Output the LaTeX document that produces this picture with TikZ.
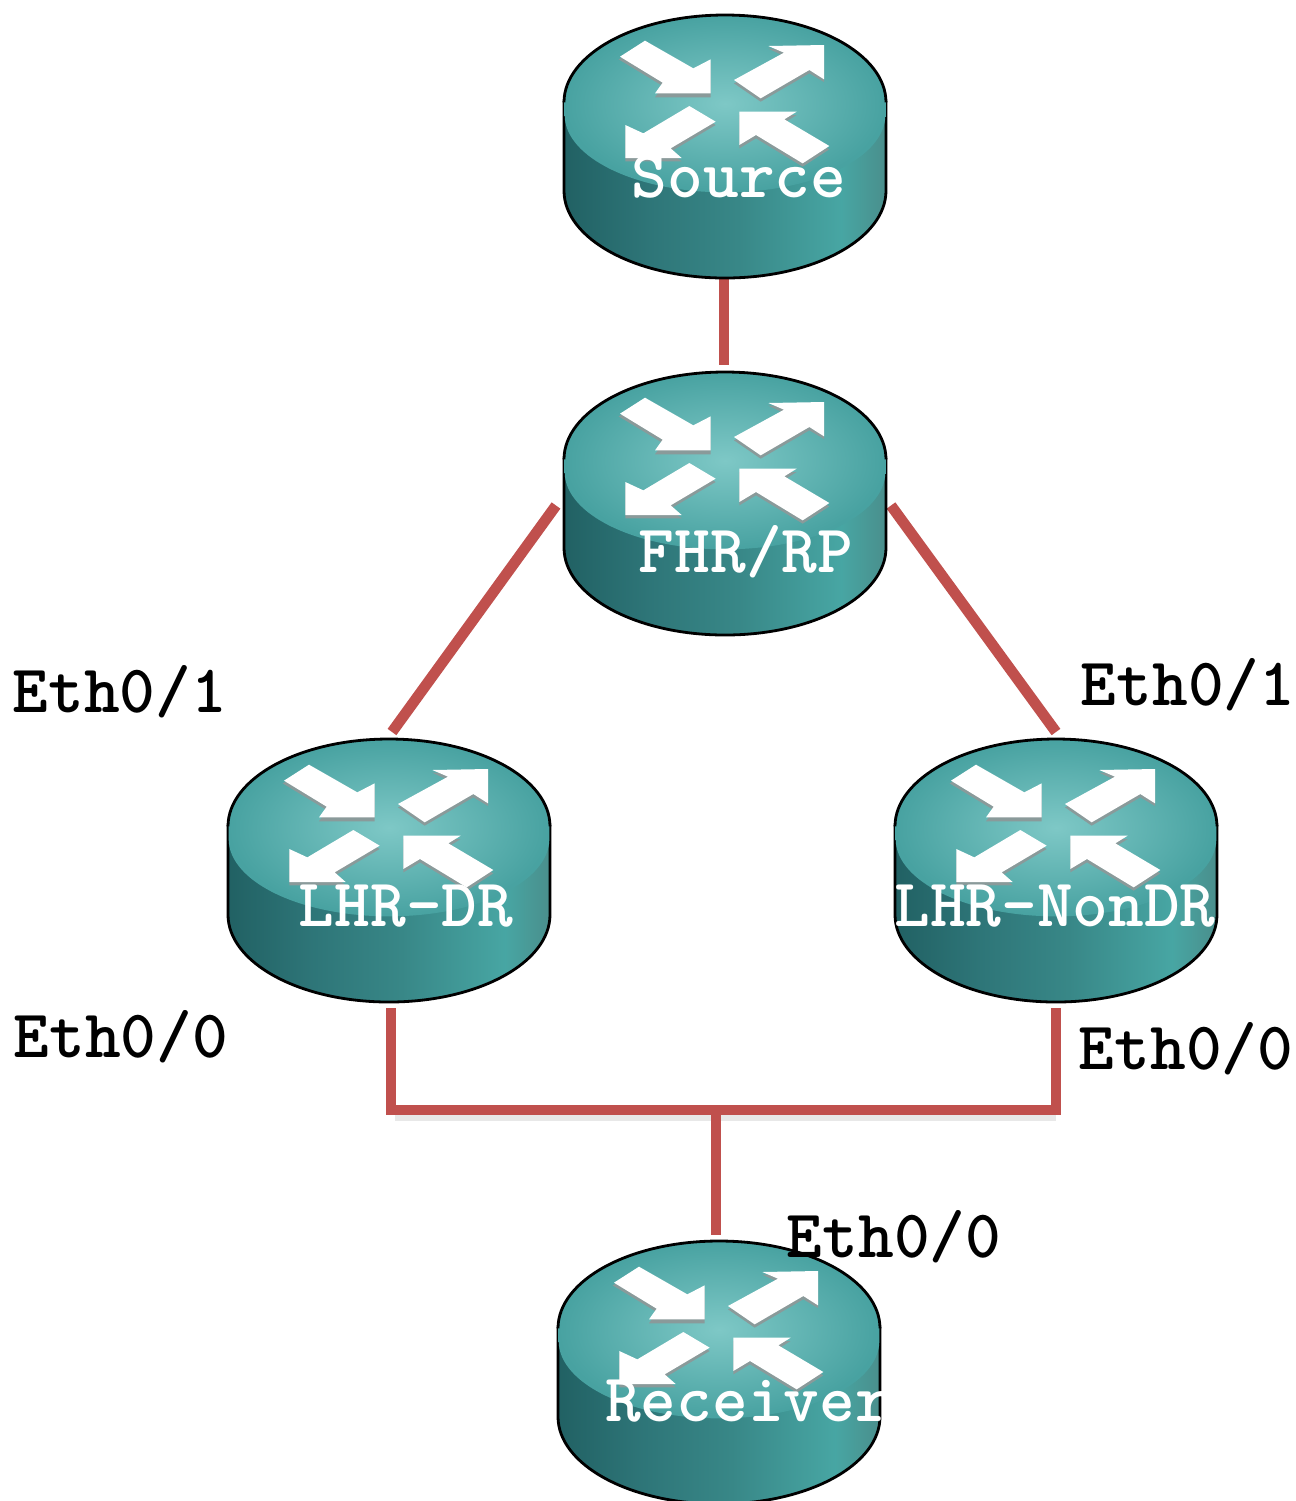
\documentclass[tikz,border=0pt]{standalone}
\usetikzlibrary{calc}
\pgfdeclarehorizontalshading{routerbody}{100bp}{
 rgb(0bp)=(0.13,0.38,0.39);
 rgb(25bp)=(0.13,0.38,0.39);
 rgb(38bp)=(0.18,0.46,0.47);
 rgb(52bp)=(0.22,0.53,0.53);
 rgb(68bp)=(0.28,0.65,0.64);
 rgb(75bp)=(0.29,0.56,0.55);
 rgb(100bp)=(0.29,0.56,0.55)}
\definecolor{linkred}{HTML}{C0504D}
\definecolor{arrowshade}{HTML}{8A9A9A}
\definecolor{faceinner}{RGB}{126,200,198}
\definecolor{faceouter}{RGB}{72,162,161}
\tikzset{
  routerbox/.style={draw=none,fill=none,inner sep=0pt,outer sep=0pt,minimum width=161pt,minimum height=131.5pt},
  routerlabel/.style={anchor=base,text=white,inner sep=0pt,font=\ttfamily\bfseries\fontsize{34}{36}\selectfont},
  portlabel/.style={anchor=base,text=black,inner sep=0pt,font=\ttfamily\bfseries\fontsize{34}{36}\selectfont},
  link/.style={draw=linkred,line width=5.4pt,line cap=butt,line join=miter},
  linkshadow/.style={draw=black!55,line width=5pt,opacity=0.16},
  routericon/.pic={
    \begin{scope}[x=0.16667pt,y=-0.16667pt,shift={(-525,-45)}]
      \shade[shading=routerbody,draw=black,line width=1.4pt]
        (42,307) -- (42,572) arc[start angle=180,end angle=0,x radius=483,y radius=262] -- (1008,307) -- cycle;
      \shade[inner color=faceinner,outer color=faceouter]
        (44,307) arc[start angle=180,end angle=360,x radius=481,y radius=262]
        -- (1006,345) arc[start angle=0,end angle=180,x radius=481,y radius=232] -- cycle;
      \draw[black,line width=1.4pt] (42,307) arc[start angle=180,end angle=360,x radius=483,y radius=262];
      \fill[arrowshade] (206,178) -- (285,132) -- (430,215) -- (482,188) -- (482,292) -- (315,292) -- (338,258) -- cycle;
      \fill[arrowshade] (655,146) -- (822,143) -- (822,246) -- (778,220) -- (632,305) -- (552,250) -- (702,168) -- cycle;
      \fill[arrowshade] (226,385) -- (280,410) -- (418,328) -- (497,375) -- (362,455) -- (395,484) -- (226,484) -- cycle;
      \fill[arrowshade] (568,345) -- (740,345) -- (703,368) -- (838,448) -- (758,500) -- (618,415) -- (568,445) -- cycle;
      \fill[white] (210,170) -- (285,122) -- (430,205) -- (482,178) -- (482,280) -- (315,280) -- (338,248) -- cycle;
      \fill[white] (655,138) -- (822,135) -- (822,238) -- (778,210) -- (632,295) -- (552,240) -- (702,158) -- cycle;
      \fill[white] (226,375) -- (280,400) -- (418,318) -- (497,365) -- (362,445) -- (395,474) -- (226,474) -- cycle;
      \fill[white] (568,335) -- (740,335) -- (703,358) -- (838,438) -- (758,490) -- (618,405) -- (568,435) -- cycle;
    \end{scope}
  }
}
\begin{document}
\begin{tikzpicture}[x=0.5pt,y=-0.5pt]
  \clip (0,0) rectangle (1296,1501);
  \fill[white] (0,0) rectangle (1296,1501);
  % invisible router frames
  \node[routerbox] (source) at (725,146.5) {};
  \node[routerbox] (fhr) at (725,503.5) {};
  \node[routerbox] (dr) at (389,870.5) {};
  \node[routerbox] (nondr) at (1056,870.5) {};
  \node[routerbox] (receiver) at (719,1372.5) {};
  \coordinate (bus) at (716,1110);
  % connectors
  \draw[linkshadow] ($(dr.south)+(6,0)$) ++(0,114) -- ++(661,0);
  \draw[link,shorten >=3.5pt] ($(source.south)+(-1,0)$) -- ($(fhr.north)+(-1,0)$);
  \draw[link] ($(fhr.west)+(-8,2)$) -- ($(dr.north)+(3,-7)$);
  \draw[link] ($(fhr.east)+(5,2)$) -- ($(nondr.north)+(0,-7)$);
  \draw[link] ($(dr.south)+(2,6)$) |- (bus) -| ($(nondr.south)+(0,6)$);
  \draw[link,line width=5pt] (bus) -- ($(receiver.north)+(-3,-6)$);
  % routers
  \pic at (source.north) {routericon};
  \pic at (fhr.north) {routericon};
  \pic at (dr.north) {routericon};
  \pic at (nondr.north) {routericon};
  \pic at (receiver.north) {routericon};
  % labels
  \node[routerlabel] (t1) at (739,197) {Source};
  \node[routerlabel] (t2) at (746,572) {FHR/RP};
  \node[routerlabel] (t3) at (406,926) {LHR-DR};
  \node[routerlabel] (t4) at (1055,926) {LHR-NonDR};
  \node[routerlabel] (t5) at (748,1421) {Receiver};
  \node[portlabel] (p1) at (120,712) {Eth0/1};
  \node[portlabel] (p2) at (1188,705) {Eth0/1};
  \node[portlabel] (p3) at (121,1057) {Eth0/0};
  \node[portlabel] (p4) at (1186,1069) {Eth0/0};
  \node[portlabel] (p5) at (894,1257) {Eth0/0};
\end{tikzpicture}
\end{document}
